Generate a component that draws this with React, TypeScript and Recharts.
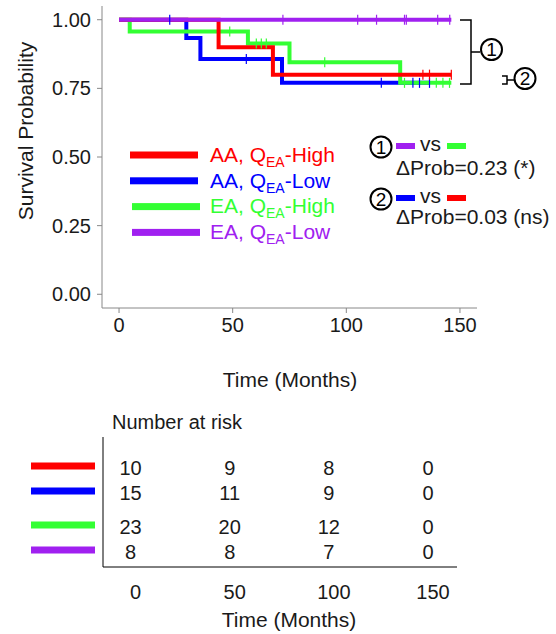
import React from 'react';
import { ComposedChart, Line, Scatter, XAxis, YAxis } from 'recharts';

const FONT = '"Liberation Sans", Arial, Helvetica, sans-serif';
const RED = '#FF0000';
const BLUE = '#0000FF';
const GREEN = '#33FF33';
const PURPLE = '#A020F0';
const INK = '#1a1a1a';

// ---- Kaplan-Meier step curves (time in months, survival probability) ----
const redTimes = [0, 43.8, 67.7, 146.2];
const redSurv = [1, 0.9, 0.8, 0.8];
const blueTimes = [0, 29.6, 35.8, 71.7, 136.6];
const blueSurv = [1, 0.933, 0.857, 0.77, 0.77];
const greenTimes = [0, 4.7, 56.7, 75, 123.7, 146.2];
const greenSurv = [1, 0.957, 0.913, 0.845, 0.77, 0.77];
const purpleTimes = [0, 146.2];
const purpleSurv = [1, 1];

// ---- censoring marks ----
const redCensorTimes = [133.7, 136.6, 146.2];
const redCensorSurv = [0.8, 0.8, 0.8];
const blueCensorTimes = [22.3, 56, 115.4, 129.3, 132.2, 136.6];
const blueCensorSurv = [1, 0.857, 0.77, 0.77, 0.77, 0.77];
const greenCensorTimes = [48.7, 60.4, 62.6, 64.8, 90.5, 125.6, 139.6, 142.5, 145.4];
const greenCensorSurv = [0.957, 0.913, 0.913, 0.913, 0.845, 0.77, 0.77, 0.77, 0.77];
const purpleCensorTimes = [72.1, 105, 113.3, 125.6, 126.4, 140.2, 145.5];
const purpleCensorSurv = [1, 1, 1, 1, 1, 1, 1];

// ---- axes ----
const xTicks = [0, 50, 100, 150];
const yTicks = [0, 0.25, 0.5, 0.75, 1];

// ---- number at risk table ----
const riskTimes = [0, 50, 100, 150];
const riskRed = [10, 9, 8, 0];
const riskBlue = [15, 11, 9, 0];
const riskGreen = [23, 20, 12, 0];
const riskPurple = [8, 8, 7, 0];

// ---- legend ----
const legendGroups = ['AA', 'AA', 'EA', 'EA'];
const legendLevels = ['High', 'Low', 'High', 'Low'];
const legendColors = [RED, BLUE, GREEN, PURPLE];

const zip = (ts: number[], ss: number[]) => ts.map((t, i) => ({ t, s: ss[i] }));

const series = [
  { name: 'blue', color: BLUE, data: zip(blueTimes, blueSurv), censor: zip(blueCensorTimes, blueCensorSurv) },
  { name: 'green', color: GREEN, data: zip(greenTimes, greenSurv), censor: zip(greenCensorTimes, greenCensorSurv) },
  { name: 'red', color: RED, data: zip(redTimes, redSurv), censor: zip(redCensorTimes, redCensorSurv) },
  { name: 'purple', color: PURPLE, data: zip(purpleTimes, purpleSurv), censor: zip(purpleCensorTimes, purpleCensorSurv) },
];

// row layout of the risk table (red, blue, gap, green, purple)
const rowPositions = [0, 1, 2.36, 3.36];
const riskRows = [
  { color: RED, values: riskRed },
  { color: BLUE, values: riskBlue },
  { color: GREEN, values: riskGreen },
  { color: PURPLE, values: riskPurple },
];

const censorShape = (color: string) => (props: any) => {
  const { cx, cy } = props;
  if (cx == null || cy == null) return <g />;
  return <line x1={cx} x2={cx} y1={cy - 5} y2={cy + 5} stroke={color} strokeWidth={1.2} />;
};

const riskText = (props: any) => {
  const { cx, cy, payload } = props;
  if (cx == null || cy == null) return <g />;
  return (
    <text x={cx} y={cy} dy="0.35em" textAnchor="middle" fontSize={20} fill={INK} fontFamily={FONT}>
      {payload.n}
    </text>
  );
};

const rowKeyTick = (props: any) => {
  const { x, y, payload } = props;
  const idx = rowPositions.indexOf(payload.value);
  const color = idx >= 0 ? riskRows[idx].color : '#000';
  return <rect x={x - 64} y={y - 5.5} width={64} height={7} fill={color} />;
};

const Circled = ({ cx, cy, label }: { cx: number; cy: number; label: string }) => (
  <g>
    <circle cx={cx} cy={cy} r={10.5} fill="none" stroke="#000" strokeWidth={2} />
    <text x={cx} y={cy + 6.5} textAnchor="middle" fontSize={19} fontFamily={FONT} fill="#000">
      {label}
    </text>
  </g>
);

export default function App() {
  return (
    <div style={{ position: 'absolute', left: 0, top: 0, width: 556, height: 634, background: '#fff', fontFamily: FONT }}>
      <div style={{ position: 'absolute', left: 0, top: 0 }}>
        <ComposedChart width={556} height={400} margin={{ top: 6, right: 79, bottom: 0, left: 0 }}>
          <XAxis
            type="number"
            dataKey="t"
            domain={[-7.5, 157.5]}
            ticks={xTicks}
            allowDataOverflow
            stroke="#888"
            tickSize={5}
            tickMargin={5}
            height={92}
            tick={{ fontSize: 20, fill: INK, fontFamily: FONT }}
          />
          <YAxis
            type="number"
            domain={[-0.05, 1.05]}
            ticks={yTicks}
            allowDataOverflow
            stroke="#888"
            tickSize={5}
            tickMargin={6}
            width={102}
            tickFormatter={(v: number) => v.toFixed(2)}
            tick={{ fontSize: 20, fill: INK, fontFamily: FONT }}
          />
          {series.map((s) => (
            <Line
              key={s.name}
              data={s.data}
              dataKey="s"
              type="stepAfter"
              stroke={s.color}
              strokeWidth={4}
              dot={false}
              activeDot={false}
              isAnimationActive={false}
            />
          ))}
          {series.map((s) => (
            <Scatter
              key={'c' + s.name}
              data={s.censor}
              dataKey="s"
              shape={censorShape(s.color)}
              isAnimationActive={false}
            />
          ))}
        </ComposedChart>
      </div>

      <div style={{ position: 'absolute', left: 0, top: 400 }}>
        <ComposedChart width={556} height={234} margin={{ top: 37, right: 99, bottom: 0, left: 0 }}>
          <XAxis
            type="number"
            dataKey="t"
            domain={[-13.9, 164.6]}
            ticks={riskTimes}
            allowDataOverflow
            stroke="#000"
            tickLine={false}
            tickSize={6}
            tickMargin={12}
            height={67}
            tick={{ fontSize: 20, fill: INK, fontFamily: FONT, dx: 5 }}
          />
          <YAxis
            type="number"
            dataKey="r"
            domain={[-1.24, 3.96]}
            reversed
            ticks={rowPositions}
            allowDataOverflow
            stroke="#000"
            tickLine={false}
            tickSize={6}
            tickMargin={2}
            width={103}
            tick={rowKeyTick}
          />
          {riskRows.map((row, i) => (
            <Scatter
              key={'risk' + i}
              data={riskTimes.map((t, j) => ({ t, r: rowPositions[i], n: row.values[j] }))}
              dataKey="r"
              shape={riskText}
              isAnimationActive={false}
            />
          ))}
        </ComposedChart>
      </div>

      <svg
        width={556}
        height={634}
        style={{ position: 'absolute', left: 0, top: 0, pointerEvents: 'none' }}
        fontFamily={FONT}
      >
        {/* axis titles */}
        <text x={33} y={131} transform="rotate(-90 33 131)" textAnchor="middle" fontSize={21} fill={INK}>
          Survival Probability
        </text>
        <text x={290} y={387} textAnchor="middle" fontSize={21} fill={INK}>
          Time (Months)
        </text>

        {/* legend */}
        {legendColors.map((c, i) => (
          <g key={'lg' + i}>
            <rect x={i < 2 ? 130 : 132} y={151.5 + i * 25.8} width={68} height={7} fill={c} />
            <text x={210} y={162.3 + i * 25.4} fontSize={21} fill={c}>
              {legendGroups[i]}, Q
              <tspan fontSize={14} dy={5}>EA</tspan>
              <tspan dy={-5}>-{legendLevels[i]}</tspan>
            </text>
          </g>
        ))}

        {/* brackets on the right */}
        <path d="M460 20 H471 V84 H460 M471 52 H480" fill="none" stroke="#000" strokeWidth={1.5} />
        <Circled cx={491.5} cy={49.5} label="1" />
        <path d="M502 76 H507 V84 H502 M507 80 H514" fill="none" stroke="#000" strokeWidth={1.5} />
        <Circled cx={525} cy={78.5} label="2" />

        {/* comparison annotations */}
        <Circled cx={381} cy={147} label="1" />
        <rect x={396} y={143} width={19} height={6} fill={PURPLE} />
        <text x={420} y={151} fontSize={21} fill={INK}>vs</text>
        <rect x={447} y={143} width={19} height={6} fill={GREEN} />
        <text x={396} y={175} fontSize={21} fill={INK}>ΔProb=0.23 (*)</text>

        <Circled cx={381} cy={199} label="2" />
        <rect x={396} y={195} width={19} height={6} fill={BLUE} />
        <text x={420} y={203} fontSize={21} fill={INK}>vs</text>
        <rect x={447} y={195} width={19} height={6} fill={RED} />
        <text x={396} y={224} fontSize={21} fill={INK}>ΔProb=0.03 (ns)</text>

        {/* risk table titles */}
        <text x={112} y={429} fontSize={20} fill={INK}>Number at risk</text>
        <text x={289} y={627} textAnchor="middle" fontSize={21} fill={INK}>Time (Months)</text>
      </svg>
    </div>
  );
}
